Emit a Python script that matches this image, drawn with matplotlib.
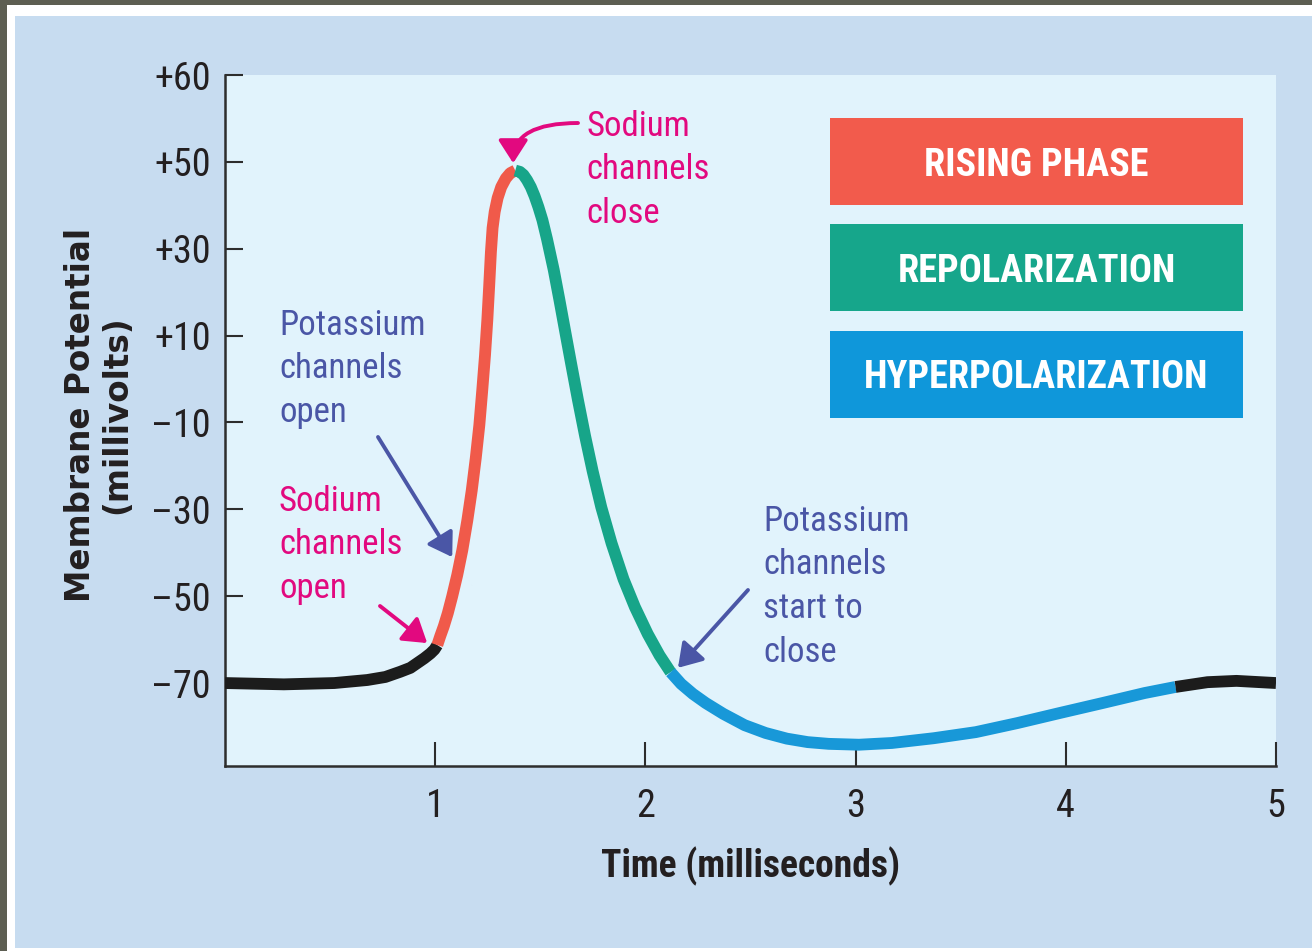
import numpy as np
import matplotlib
matplotlib.use("Agg")
import matplotlib.pyplot as plt
from matplotlib import font_manager
from matplotlib.patches import Rectangle

# ---------------- data ----------------
time_ms = [0.000, 0.280, 0.520, 0.677, 0.763, 0.834, 0.882, 0.915, 0.948, 0.977,
           0.996, 1.010, 1.024, 1.041, 1.060, 1.081, 1.105, 1.129, 1.153, 1.174,
           1.193, 1.210, 1.224, 1.237, 1.248, 1.257, 1.265, 1.273, 1.283, 1.297,
           1.314, 1.336, 1.357, 1.381, 1.403, 1.420, 1.437, 1.455, 1.473, 1.491,
           1.510, 1.532, 1.564, 1.591, 1.619, 1.647, 1.679, 1.713, 1.749, 1.790,
           1.839, 1.896, 1.950, 2.011, 2.067, 2.120, 2.170, 2.226, 2.287, 2.371,
           2.472, 2.572, 2.673, 2.772, 2.872, 3.016, 3.173, 3.372, 3.572, 3.771,
           3.971, 4.175, 4.375, 4.522, 4.674, 4.812, 5.000]
potential_mv = [-70.0, -70.3, -70.0, -69.3, -68.6, -67.4, -66.5, -65.4, -64.3, -63.2,
                -62.3, -61.25, -59.2, -56.9, -53.9, -50.0, -45.1, -39.4, -32.5, -25.6,
                -18.2, -10.6, -2.5, 5.5, 13.6, 21.6, 29.2, 34.8, 38.5, 41.7,
                44.2, 46.2, 47.4, 48.0, 47.7, 47.0, 45.8, 44.2, 42.1, 39.6,
                36.6, 32.2, 25.1, 18.2, 10.8, 3.45, -4.8, -13.1, -21.2, -29.5,
                -37.8, -46.1, -52.5, -58.7, -63.6, -67.5, -70.2, -72.5, -74.6, -77.1,
                -79.7, -81.5, -82.8, -83.6, -84.0, -84.2, -83.8, -82.7, -81.3, -79.2,
                -76.9, -74.6, -72.3, -70.9, -69.8, -69.5, -70.0]

phase_bounds = [0.0, 1.010, 1.381, 2.120, 4.522, 5.0]
phase_colors = ["#1c1c1c", "#f05a4a", "#17a589", "#1898d8", "#1c1c1c"]

ytick_values = [60, 50, 30, 10, -10, -30, -50, -70]
ytick_labels = ["+60", "+50", "+30", "+10", "\u201310", "\u201330", "\u201350", "\u201370"]
xtick_values = [1, 2, 3, 4, 5]
xtick_labels = ["1", "2", "3", "4", "5"]

legend_labels = ["RISING PHASE", "REPOLARIZATION", "HYPERPOLARIZATION"]
legend_colors = ["#f25b4c", "#16a68b", "#0f97da"]

MAGENTA = "#e2097f"
SLATE = "#4a56a6"
notes = [
    (["Sodium", "channels", "close"], MAGENTA, (1.371, 49.7)),
    (["Potassium", "channels", "open"], SLATE, (1.081, -41.0)),
    (["Sodium", "channels", "open"], MAGENTA, (0.962, -60.8)),
    (["Potassium", "channels", "start to", "close"], SLATE, (2.155, -66.5)),
]
note_layout = [
    (586, 136, (578, 123), "angle3,angleA=0,angleB=90"),
    (279, 335, (378, 437), "arc3,rad=0"),
    (279, 511, (380, 606), "arc3,rad=0"),
    (763, 531, (748, 590), "arc3,rad=0"),
]
LINE_STEP = 43.5

# ---------------- fonts ----------------
names = {f.name for f in font_manager.fontManager.ttflist}
NARROW = "Liberation Sans"
for cand in ["Roboto Condensed", "Liberation Sans Narrow", "Archivo Narrow",
             "PT Sans Narrow", "Asap Condensed"]:
    if cand in names:
        NARROW = cand
        break
DARK = "#231f20"

W, H = 1312, 951
fig = plt.figure(figsize=(W / 100, H / 100), dpi=100)
fig.patch.set_facecolor("#5d5e52")


def fx(x):
    return x / W


def fy(y):
    return 1 - y / H


fig.add_artist(Rectangle((fx(7), 0), 1 - fx(7), fy(5), transform=fig.transFigure,
                         facecolor="white", edgecolor="none", zorder=-3))
fig.add_artist(Rectangle((fx(15), fy(948)), 1 - fx(15), fy(16) - fy(948),
                         transform=fig.transFigure, facecolor="#c7dcf0",
                         edgecolor="none", zorder=-2))

ax = fig.add_axes([fx(225), fy(766), fx(1276) - fx(225), fy(75) - fy(766)])
ax.set_facecolor("#e1f3fc")


def fwd(v):
    v = np.asarray(v, dtype=float)
    return np.where(v <= 50, (v + 70) / 20.0, 6 + (v - 50) / 10.0)


def inv(p):
    p = np.asarray(p, dtype=float)
    return np.where(p <= 6, p * 20 - 70, 50 + (p - 6) * 10)


ax.set_yscale("function", functions=(fwd, inv))
ax.set_xlim(0, 5)
ax.set_ylim(-89.1, 60)

t = np.array(time_ms)
v = np.array(potential_mv)
for i, col in enumerate(phase_colors):
    m = (t >= phase_bounds[i] - 1e-9) & (t <= phase_bounds[i + 1] + 1e-9)
    ax.plot(t[m], v[m], color=col, lw=8.5, solid_capstyle="butt",
            solid_joinstyle="round", zorder=4)

for s in ["top", "right"]:
    ax.spines[s].set_visible(False)
for s in ["left", "bottom"]:
    ax.spines[s].set_color("#2d2d2d")
    ax.spines[s].set_linewidth(1.8)

ax.set_yticks(ytick_values)
ax.set_yticklabels(ytick_labels)
ax.set_xticks(xtick_values)
ax.set_xticklabels(xtick_labels)
ax.minorticks_off()
ax.tick_params(axis="y", direction="in", length=13, width=1.5, color="#2d2d2d",
               pad=10, labelsize=27.5, labelcolor=DARK)
ax.tick_params(axis="x", direction="in", length=17, width=1.5, color="#2d2d2d",
               pad=16, labelsize=27.5, labelcolor=DARK)
for lab in ax.get_xticklabels() + ax.get_yticklabels():
    lab.set_family(NARROW)

ax.set_xlabel("Time (milliseconds)", fontsize=27, fontweight="bold",
              family=NARROW, color=DARK)
ax.xaxis.set_label_coords(0.5, (766 - 866) / 691)
ax.xaxis.label.set_verticalalignment("center")

fig.text(fx(90), fy(415), "Membrane Potential", rotation=90, rotation_mode="anchor",
         ha="center", va="baseline", fontsize=23.5, fontweight="bold",
         family="DejaVu Sans", color=DARK)
fig.text(fx(126), fy(415), "(millivolts)", rotation=90, rotation_mode="anchor",
         ha="center", va="baseline", fontsize=23.5, fontweight="bold",
         family="DejaVu Sans", color=DARK)

box_tops = [118, 224, 331]
for lab, col, top in zip(legend_labels, legend_colors, box_tops):
    x0 = (830 - 225) / 1051
    w = (1243 - 830) / 1051
    y0 = (766 - (top + 87)) / 691
    h = 87 / 691
    ax.add_patch(Rectangle((x0, y0), w, h, transform=ax.transAxes,
                           facecolor=col, edgecolor="none", zorder=3))
    ax.text(x0 + w / 2, (766 - (top + 43.5 + 14)) / 691, lab, transform=ax.transAxes,
            ha="center", va="baseline", color="white", fontsize=27.5,
            fontweight="bold", family=NARROW, zorder=5)

for (lines, col, tip), (left, base, tail, conn) in zip(notes, note_layout):
    for k, line in enumerate(lines):
        fig.text(fx(left), fy(base + k * LINE_STEP), line, ha="left", va="baseline",
                 fontsize=25, color=col, family=NARROW)
    ax.annotate("", xy=tip, xycoords="data",
                xytext=(fx(tail[0]), fy(tail[1])), textcoords="figure fraction",
                arrowprops=dict(arrowstyle="-|>,head_length=0.7,head_width=0.45",
                                mutation_scale=20, lw=2.8, color=col,
                                shrinkA=0, shrinkB=0, connectionstyle=conn),
                zorder=6)

fig.savefig("out.png", dpi=100, facecolor=fig.get_facecolor())
